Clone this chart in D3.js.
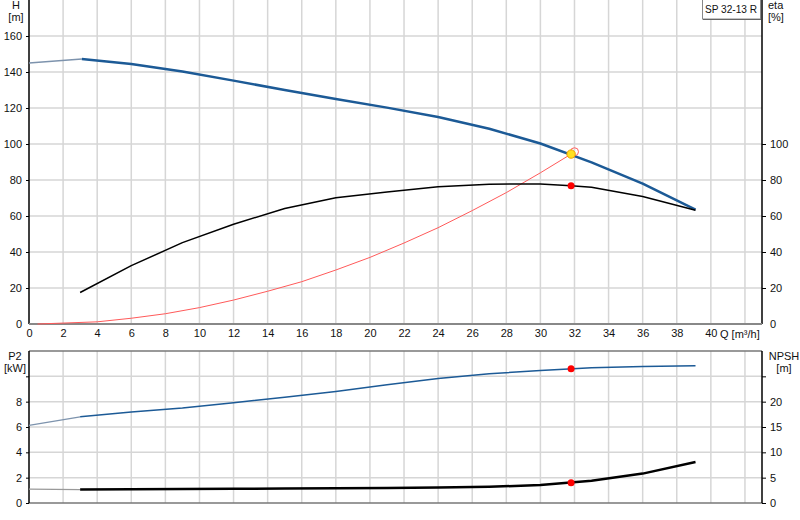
<!DOCTYPE html>
<html><head><meta charset="utf-8">
<script src="https://cdn.jsdelivr.net/npm/d3@7"></script>
<style>
html,body{margin:0;padding:0;background:#fff;}
svg{display:block;font-family:"Liberation Sans",Arial,sans-serif;}
</style></head>
<body><svg id="c" width="800" height="520"></svg>
<script>
// ---- data ----
const qTicks = [0,2,4,6,8,10,12,14,16,18,20,22,24,26,28,30,32,34,36,38,40];
const hTicks = [0,20,40,60,80,100,120,140,160];
const etaTicks = [0,20,40,60,80,100];
const p2Ticks = [0,2,4,6,8];
const npshTicks = [0,5,10,15,20];

const headQ = [0,3.1,6,9,12,15,18,21,24,27,30,33,36,39.1];
const headH = [145,147.2,144.5,140.3,135.2,130,125,120.2,115,108.5,100.3,89.8,78,63.5];

const etaQ = [3,6,9,12,15,18,21,24,27,30,31.8,33,36,39.1];
const etaV = [17.5,32.4,45.2,55.4,64.2,70.1,73.4,76.3,77.7,77.8,76.8,76,70.8,63.2];

const sysQ = [0.5,4,6,8,10,12,14,16,18,20,22,24,26,28,30,31.8];
const sysH = [0,1.2,3.2,5.7,9.1,13.3,18.2,23.5,30,37,45,53.5,63,73,84,94.4];

const p2Q = [0,3,6,9,12,15,18,21,24,27,30,33,36,39.1];
const p2V = [6.13,6.8,7.18,7.5,7.92,8.35,8.8,9.33,9.83,10.2,10.47,10.68,10.78,10.84];

const npshQ = [0,3,6,9,12,15,18,21,24,27,30,33,36,39.1];
const npshV = [2.75,2.65,2.7,2.75,2.8,2.85,2.9,2.95,3.05,3.2,3.55,4.4,5.8,8.1];

const duty = {q:31.8, h:94.4, eta:76.8, p2:10.6, npsh:4.0};
const request = {q:32.0, h:95.7};
const title = "SP 32-13 R";

// ---- layout ----
const svg = d3.select("#c");
const X0 = 29, X1 = 762;
const x = d3.scaleLinear().domain([0,43]).range([X0,X1]);
const yH = d3.scaleLinear().domain([0,180]).range([324,0]);
const yEta = d3.scaleLinear().domain([0,180]).range([324,0]);
const yP = d3.scaleLinear().domain([0,12]).range([503,351]);
const yN = d3.scaleLinear().domain([0,30]).range([503,351]);

const grid = "#d6d6d6";
const blue = "#1c5a96";
const txt = "#111";

// ---- top panel grid ----
const gTop = svg.append("g");
gTop.selectAll("line.v").data(d3.range(2,43,2)).join("line")
  .attr("x1",d=>x(d)).attr("x2",d=>x(d)).attr("y1",0).attr("y2",324)
  .attr("stroke",grid).attr("stroke-width",1.5);
gTop.selectAll("line.h").data(d3.range(20,161,20)).join("line")
  .attr("x1",X0).attr("x2",X1).attr("y1",d=>yH(d)).attr("y2",d=>yH(d))
  .attr("stroke",grid).attr("stroke-width",1.5);

// bottom panel grid
const gBot = svg.append("g");
gBot.selectAll("line.v").data(d3.range(2,43,2)).join("line")
  .attr("x1",d=>x(d)).attr("x2",d=>x(d)).attr("y1",351).attr("y2",503)
  .attr("stroke",grid).attr("stroke-width",1.5);
gBot.selectAll("line.h").data(d3.range(2,11,2)).join("line")
  .attr("x1",X0).attr("x2",X1).attr("y1",d=>yP(d)).attr("y2",d=>yP(d))
  .attr("stroke",grid).attr("stroke-width",1.5);

// ---- axes top ----
const axL = d3.axisLeft(yH).tickValues(hTicks).tickSize(3).tickPadding(4);
const gL = svg.append("g").attr("transform",`translate(${X0},0)`).call(axL);
const axR = d3.axisRight(yEta).tickValues(etaTicks).tickSize(4).tickPadding(4);
const gR = svg.append("g").attr("transform",`translate(${X1},0)`).call(axR);
const axB = d3.axisBottom(x).tickValues(qTicks).tickSize(0).tickPadding(5);
const gB = svg.append("g").attr("transform",`translate(0,324)`).call(axB);

[gL,gR,gB].forEach(g=>{
  g.selectAll("text").attr("font-size",11).attr("fill",txt).attr("font-family","Liberation Sans, Arial, sans-serif");
  g.selectAll(".tick line").attr("stroke","#000");
  g.select(".domain").remove();
});
gL.selectAll(".tick").filter(d=>d===0).select("line").remove();
gR.selectAll(".tick").filter(d=>d===0).select("line").remove();

// axis lines top
svg.append("line").attr("x1",X0).attr("x2",X0).attr("y1",0).attr("y2",324).attr("stroke","#000").attr("stroke-width",1.5);
svg.append("line").attr("x1",X1).attr("x2",X1).attr("y1",0).attr("y2",324).attr("stroke","#000").attr("stroke-width",1.5);
svg.append("line").attr("x1",X0).attr("x2",X1).attr("y1",324).attr("y2",324).attr("stroke","#888").attr("stroke-width",2);

// ---- axes bottom panel ----
const axPL = d3.axisLeft(yP).tickValues([0,2,4,6,8,10]).tickSize(3).tickPadding(4)
  .tickFormat(d=>p2Ticks.includes(d)?d:"");
const gPL = svg.append("g").attr("transform",`translate(${X0},0)`).call(axPL);
const axNR = d3.axisRight(yN).tickValues([0,5,10,15,20,25]).tickSize(4).tickPadding(4)
  .tickFormat(d=>npshTicks.includes(d)?d:"");
const gNR = svg.append("g").attr("transform",`translate(${X1},0)`).call(axNR);
[gPL,gNR].forEach(g=>{
  g.selectAll("text").attr("font-size",11).attr("fill",txt).attr("font-family","Liberation Sans, Arial, sans-serif");
  g.selectAll(".tick line").attr("stroke","#000");
  g.select(".domain").remove();
});
svg.append("line").attr("x1",X0).attr("x2",X1).attr("y1",351).attr("y2",351).attr("stroke","#777").attr("stroke-width",1.5);
svg.append("line").attr("x1",X0).attr("x2",X1).attr("y1",503).attr("y2",503).attr("stroke","#777").attr("stroke-width",1.5);
svg.append("line").attr("x1",X0).attr("x2",X0).attr("y1",351).attr("y2",503).attr("stroke","#000").attr("stroke-width",1.5);
svg.append("line").attr("x1",X1).attr("x2",X1).attr("y1",351).attr("y2",503).attr("stroke","#000").attr("stroke-width",1.5);

// ---- axis titles ----
function label(t,xx,yy,anchor){
  svg.append("text").attr("x",xx).attr("y",yy).attr("font-size",11).attr("fill",txt)
    .attr("text-anchor",anchor||"middle").text(t);
}
label("H",16,9); label("[m]",16,21);
label("eta",768,9,"start"); label("[%]",768,21,"start");
label("P2",15,360); label("[kW]",15,372);
label("NPSH",784,360); label("[m]",784,372);
label("Q [m³/h]",720,338,"start");

// ---- curves ----
const line = (yScale)=>d3.line().x(d=>x(d[0])).y(d=>yScale(d[1]));
const zip = (a,b)=>a.map((v,i)=>[v,b[i]]);

// head
const head = zip(headQ,headH);
svg.append("path").attr("d",line(yH)(head.slice(0,2))).attr("fill","none")
  .attr("stroke","#7d93ad").attr("stroke-width",1.5);
svg.append("path").attr("d",line(yH)(head.slice(1))).attr("fill","none")
  .attr("stroke",blue).attr("stroke-width",2.5).attr("stroke-linejoin","round");

// system curve
svg.append("path").attr("d",line(yH)(zip(sysQ,sysH))).attr("fill","none")
  .attr("stroke","#ff5a5a").attr("stroke-width",1);

// eta
svg.append("path").attr("d",line(yEta)(zip(etaQ,etaV))).attr("fill","none")
  .attr("stroke","#000").attr("stroke-width",1.5).attr("stroke-linejoin","round");

// P2
const p2 = zip(p2Q,p2V);
svg.append("path").attr("d",line(yP)(p2.slice(0,2))).attr("fill","none")
  .attr("stroke","#7d93ad").attr("stroke-width",1.3);
svg.append("path").attr("d",line(yP)(p2.slice(1))).attr("fill","none")
  .attr("stroke",blue).attr("stroke-width",1.5);

// NPSH
const np = zip(npshQ,npshV);
svg.append("path").attr("d",line(yN)(np.slice(0,2))).attr("fill","none")
  .attr("stroke","#999").attr("stroke-width",1.3);
svg.append("path").attr("d",line(yN)(np.slice(1))).attr("fill","none")
  .attr("stroke","#000").attr("stroke-width",2.5).attr("stroke-linejoin","round");

// ---- duty points ----
svg.append("circle").attr("cx",x(request.q)).attr("cy",yH(request.h)).attr("r",4)
  .attr("fill","none").attr("stroke","#ff6060").attr("stroke-width",1);
svg.append("circle").attr("cx",x(duty.q)).attr("cy",yH(duty.h)).attr("r",4.2)
  .attr("fill","#ffe020").attr("stroke","#f0a000").attr("stroke-width",1);
svg.append("circle").attr("cx",x(duty.q)).attr("cy",yEta(duty.eta)).attr("r",3.5).attr("fill","#ff0000");
svg.append("circle").attr("cx",x(duty.q)).attr("cy",yP(duty.p2)).attr("r",3.5).attr("fill","#ff0000");
svg.append("circle").attr("cx",x(duty.q)).attr("cy",yN(duty.npsh)).attr("r",3.5).attr("fill","#ff0000");

// ---- title box ----
svg.append("rect").attr("x",702.5).attr("y",-1).attr("width",58).attr("height",20)
  .attr("fill","#fff").attr("stroke","#888").attr("stroke-width",1);
svg.append("line").attr("x1",703).attr("x2",761).attr("y1",19.5).attr("y2",19.5).attr("stroke","#666");
svg.append("text").attr("x",705).attr("y",13).attr("font-size",10).attr("fill",txt)
  .attr("textLength",52).attr("lengthAdjust","spacingAndGlyphs").text(title);
</script></body></html>
